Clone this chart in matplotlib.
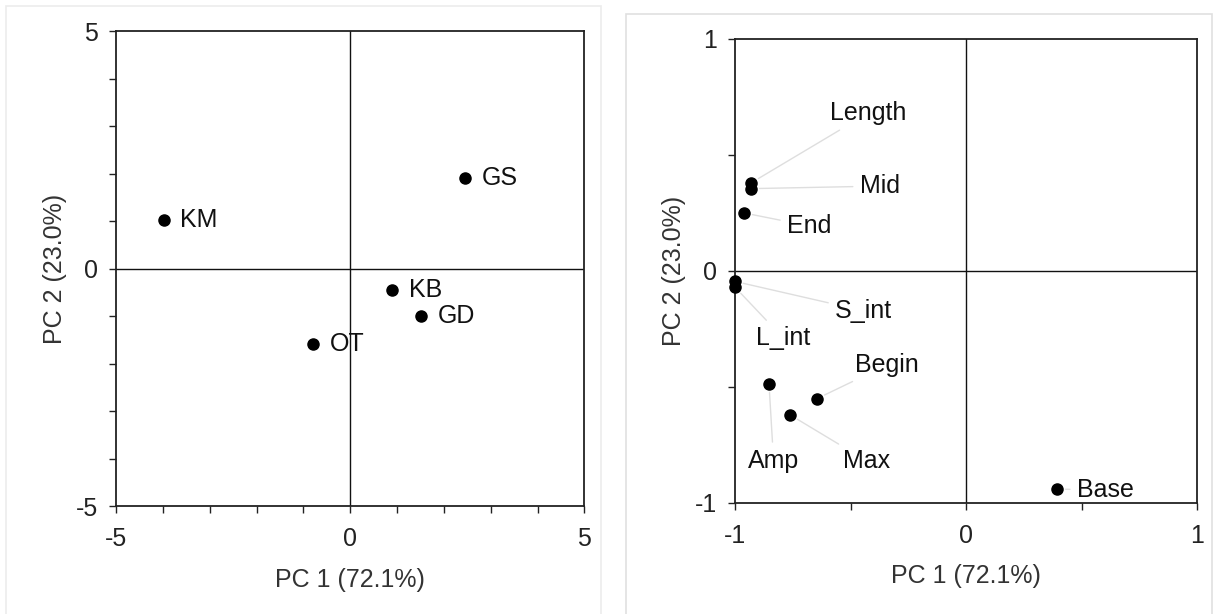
import matplotlib
matplotlib.use("Agg")
import matplotlib.pyplot as plt
from matplotlib.ticker import MultipleLocator
from matplotlib.patches import Rectangle

plt.rcParams["font.family"] = ["Liberation Sans", "DejaVu Sans"]
plt.rcParams["axes.unicode_minus"] = False

# score plot (sites)
sites = ["KM", "GS", "KB", "GD", "OT"]
site_pc1 = [-3.98, 2.46, 0.90, 1.52, -0.80]
site_pc2 = [1.02, 1.91, -0.44, -1.00, -1.58]

# loading plot (variables) and where their labels sit
variables = ["Length", "Mid", "End", "S_int", "L_int", "Begin", "Amp", "Max", "Base"]
var_pc1 = [-0.93, -0.93, -0.96, -1.00, -1.00, -0.645, -0.853, -0.762, 0.394]
var_pc2 = [0.38, 0.355, 0.25, -0.045, -0.07, -0.55, -0.487, -0.62, -0.94]
lab_pc1 = [-0.59, -0.46, -0.775, -0.567, -0.909, -0.48, -0.944, -0.532, 0.48]
lab_pc2 = [0.68, 0.366, 0.194, -0.172, -0.289, -0.405, -0.819, -0.819, -0.944]

pc1_label = "PC 1 (72.1%)"
pc2_label = "PC 2 (23.0%)"

FS = 18
fig = plt.figure(figsize=(12.21, 6.14), dpi=100, facecolor="white")

# faint frames of the two pasted-together source images
fig.add_artist(Rectangle((0.005, -0.01), 0.487, 1.0, transform=fig.transFigure,
                         fill=False, edgecolor="#ececec", lw=1.2))
fig.add_artist(Rectangle((0.513, -0.01), 0.48, 0.988, transform=fig.transFigure,
                         fill=False, edgecolor="#e0e0e0", lw=1.2))


def style(ax, lim, major, minor):
    ax.set_xlim(-lim, lim)
    ax.set_ylim(-lim, lim)
    ax.xaxis.set_major_locator(MultipleLocator(major))
    ax.yaxis.set_major_locator(MultipleLocator(major))
    ax.xaxis.set_minor_locator(MultipleLocator(minor))
    ax.yaxis.set_minor_locator(MultipleLocator(minor))
    ax.tick_params(which="both", direction="out", length=5, width=1,
                   color="#222222", labelsize=FS, labelcolor="#222222")
    ax.tick_params(axis="x", pad=10)
    ax.tick_params(axis="y", pad=8)
    ax.axhline(0, color="#111111", lw=1)
    ax.axvline(0, color="#111111", lw=1)
    for s in ax.spines.values():
        s.set_color("#222222")
        s.set_linewidth(1.3)
    ax.set_xlabel(pc1_label, fontsize=FS, color="#333333", labelpad=12)
    ax.set_ylabel(pc2_label, fontsize=FS, color="#333333", labelpad=6)


ax1 = fig.add_axes([0.095, 0.1754, 0.3836, 0.7741])
style(ax1, 5, 5, 1)
ax1.plot(site_pc1, site_pc2, "o", color="black", markersize=8)
for name, x, y in zip(sites, site_pc1, site_pc2):
    ax1.annotate(name, (x, y), xytext=(12, 0), textcoords="offset points",
                 ha="left", va="center", fontsize=FS, color="#111111")

ax2 = fig.add_axes([0.602, 0.1808, 0.3784, 0.7557])
style(ax2, 1, 1, 0.5)
ax2.plot(var_pc1, var_pc2, "o", color="black", markersize=8, zorder=3,
         clip_on=False)
for name, x, y, lx, ly in zip(variables, var_pc1, var_pc2, lab_pc1, lab_pc2):
    ax2.annotate(name, (x, y), xytext=(lx, ly), textcoords="data",
                 ha="left", va="center", fontsize=FS, color="#111111",
                 arrowprops=dict(arrowstyle="-", color="#dedede", lw=1,
                                 shrinkA=3, shrinkB=6))

fig.savefig("out.png", dpi=100, facecolor="white")
